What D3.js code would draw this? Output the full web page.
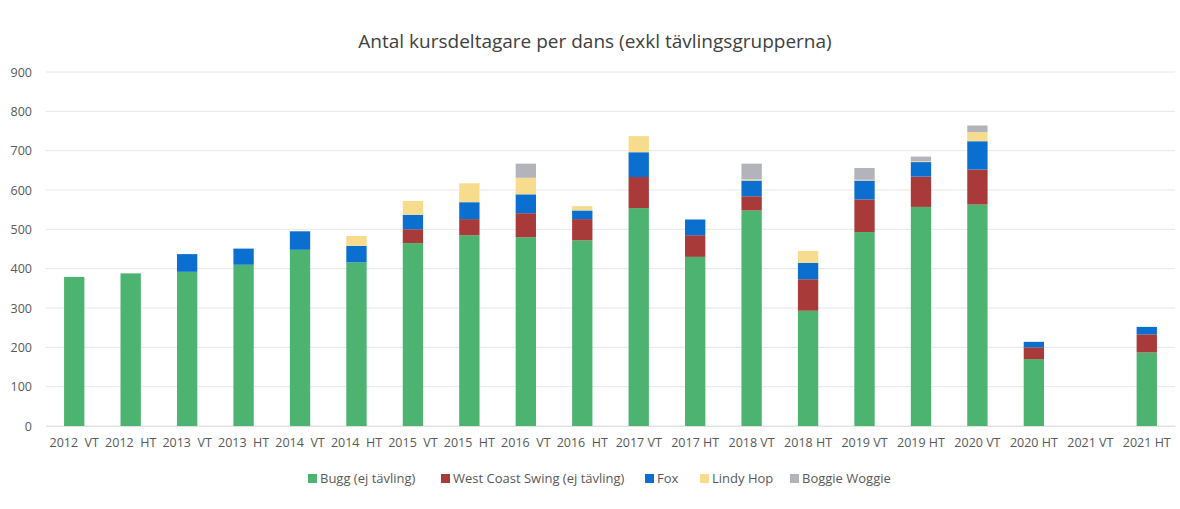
<!DOCTYPE html>
<html>
<head>
<meta charset="utf-8">
<script src="https://cdnjs.cloudflare.com/ajax/libs/d3/7.8.5/d3.min.js"></script>
<style>
  body { margin: 0; background: #fff; }
  text { font-family: "Open Sans", "Lato", sans-serif; fill: #595959; }
</style>
</head>
<body>
<script>
// Antal kursdeltagare per dans - stacked bars per termin

const terms = ["2012  VT", "2012  HT", "2013  VT", "2013  HT", "2014  VT", "2014  HT",
               "2015  VT", "2015  HT", "2016  VT", "2016  HT", "2017 VT", "2017 HT",
               "2018 VT", "2018 HT", "2019 VT", "2019 HT", "2020 VT", "2020 HT",
               "2021 VT", "2021 HT"];

const dances = ["Bugg (ej tävling)", "West Coast Swing (ej tävling)", "Fox", "Lindy Hop", "Boggie Woggie"];

const bugg    = [379, 388, 392, 410, 448, 416, 465, 485, 480, 472, 554, 430, 548, 293, 493, 557, 563, 170, 0, 187];
const wcs     = [0, 0, 0, 0, 0, 0, 35, 41, 61, 54, 79, 55, 36, 80, 83, 77, 89, 30, 0, 46];
const fox     = [0, 0, 45, 41, 47, 42, 37, 43, 48, 22, 63, 40, 40, 42, 48, 37, 72, 14, 0, 19];
const lindy   = [0, 0, 0, 0, 0, 25, 35, 48, 42, 11, 41, 0, 3, 30, 2, 2, 23, 0, 0, 0];
const boggie  = [0, 0, 0, 0, 0, 0, 0, 0, 36, 0, 0, 0, 40, 0, 30, 12, 17, 0, 0, 0];

const yTicks = [0, 100, 200, 300, 400, 500, 600, 700, 800, 900];
const colors = ["#4cb370", "#a83a3a", "#0b6fcf", "#f7dc8e", "#b3b3bb"];

const W = 1180, H = 509;
const margin = {top: 72, right: 5, bottom: 83, left: 46};
const width = W - margin.left - margin.right,
      height = H - margin.top - margin.bottom;

const rows = terms.map((t, i) => ({
    term: t,
    [dances[0]]: bugg[i],
    [dances[1]]: wcs[i],
    [dances[2]]: fox[i],
    [dances[3]]: lindy[i],
    [dances[4]]: boggie[i]
}));

const svg = d3.select("body").append("svg")
    .attr("width", W)
    .attr("height", H);

svg.append("text")
    .attr("x", 595)
    .attr("y", 48)
    .attr("text-anchor", "middle")
    .attr("font-size", 19)
    .style("fill", "#404040")
    .text("Antal kursdeltagare per dans (exkl tävlingsgrupperna)");

const g = svg.append("g")
    .attr("transform", `translate(${margin.left},${margin.top})`);

const x = d3.scaleBand()
    .domain(terms)
    .range([0, width])
    .paddingInner(0.64)
    .paddingOuter(0.32);

const y = d3.scaleLinear()
    .domain([0, 900])
    .range([height, 0]);

// gridlines
g.append("g")
    .selectAll("line")
    .data(yTicks)
    .join("line")
    .attr("x1", 0)
    .attr("x2", width)
    .attr("y1", d => y(d))
    .attr("y2", d => y(d))
    .attr("stroke", "#e6e6e6")
    .attr("stroke-width", 1);

// y axis labels
const yAxis = g.append("g")
    .call(d3.axisLeft(y).tickValues(yTicks).tickSize(0).tickPadding(14));
yAxis.select(".domain").remove();
yAxis.selectAll("text").attr("font-size", 12.5).style("font-family", "\"Open Sans\", sans-serif");

// stacks
const stack = d3.stack().keys(dances);
const series = stack(rows);

g.append("g")
    .selectAll("g")
    .data(series)
    .join("g")
    .attr("fill", (d, i) => colors[i])
    .selectAll("rect")
    .data(d => d)
    .join("rect")
    .attr("x", d => x(d.data.term))
    .attr("y", d => y(d[1]))
    .attr("width", x.bandwidth())
    .attr("height", d => y(d[0]) - y(d[1]));

// x axis
const xAxis = g.append("g")
    .attr("transform", `translate(0,${height})`)
    .call(d3.axisBottom(x).tickSize(0).tickPadding(12));
xAxis.select(".domain").attr("stroke", "#e0e0e0");
xAxis.selectAll("text")
    .attr("font-size", 12.5)
    .style("white-space", "pre")
    .style("font-family", "\"Open Sans\", sans-serif");

// legend
const legendX = [308, 441, 645, 700, 790];
const legend = svg.append("g")
    .selectAll("g")
    .data(dances)
    .join("g")
    .attr("transform", (d, i) => `translate(${legendX[i]},483)`);

legend.append("rect")
    .attr("x", 0)
    .attr("y", -9)
    .attr("width", 9)
    .attr("height", 9)
    .attr("fill", (d, i) => colors[i]);

legend.append("text")
    .attr("x", 12)
    .attr("y", 0)
    .attr("font-size", 13)
    .text(d => d);
</script>
</body>
</html>
